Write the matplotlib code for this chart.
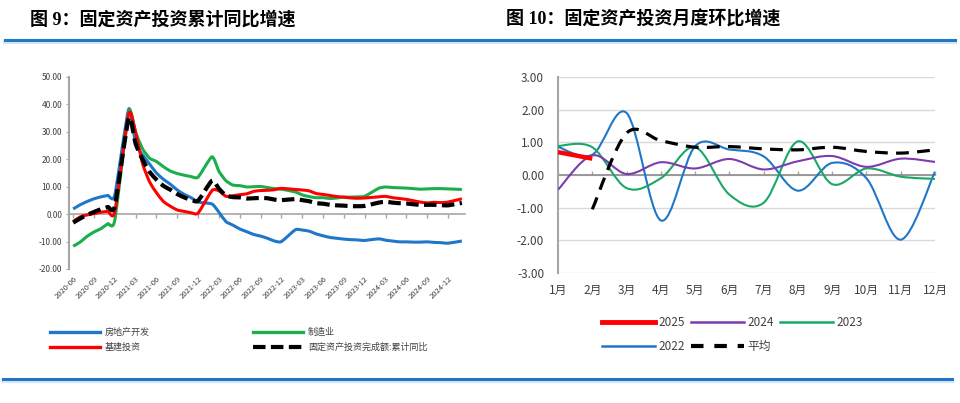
import numpy as np
import pandas as pd
import matplotlib
matplotlib.use('Agg')
import matplotlib.pyplot as plt
from matplotlib.path import Path
from matplotlib.patches import PathPatch
from matplotlib.lines import Line2D

plt.rcParams['font.family'] = ['Noto Sans CJK SC', 'DejaVu Sans']
plt.rcParams['axes.unicode_minus'] = False

# ---------------- 图9 数据：累计同比(%)，1月无数据 ----------------
periods = pd.period_range('2020-06', '2025-02', freq='M')
months = [p for p in periods if p.month != 1]
tick_months = [p for p in periods[::3] if p <= pd.Period('2024-12', freq='M')]

real_estate = [1.9, 3.4, 4.6, 5.6, 6.3, 6.8, 7.0,
               38.3, 25.6, 21.6, 18.3, 15.0, 12.7, 10.9, 8.8, 7.2, 6.0, 4.4,
               3.7, 0.7, -2.7, -4.0, -5.4, -6.4, -7.4, -8.0, -8.8, -9.8, -10.0,
               -5.7, -5.8, -6.2, -7.2, -7.9, -8.5, -8.8, -9.1, -9.3, -9.4, -9.6,
               -9.0, -9.5, -9.8, -10.1, -10.1, -10.2, -10.2, -10.1, -10.3, -10.4, -10.6,
               -9.8]
manufacturing = [-11.7, -10.2, -8.1, -6.5, -5.3, -3.5, -2.2,
                 37.3, 29.8, 23.8, 20.4, 19.2, 17.3, 15.7, 14.8, 14.2, 13.7, 13.5,
                 20.9, 15.6, 12.2, 10.6, 10.4, 9.9, 10.0, 10.1, 9.7, 9.3, 9.1,
                 8.1, 7.0, 6.4, 6.0, 6.0, 5.7, 5.9, 6.2, 6.2, 6.3, 6.5,
                 9.4, 9.9, 9.7, 9.6, 9.5, 9.3, 9.1, 9.2, 9.3, 9.3, 9.2,
                 9.0]
infra = [-2.7, -1.0, -0.3, 0.2, 0.7, 1.0, 0.9,
         36.6, 29.7, 18.4, 11.8, 7.8, 4.6, 2.9, 1.5, 1.0, 0.5, 0.4,
         8.6, 8.5, 6.5, 6.7, 7.1, 7.4, 8.3, 8.6, 8.7, 8.9, 9.4,
         9.0, 8.8, 8.5, 7.5, 7.2, 6.8, 6.4, 6.2, 5.9, 5.8, 5.9,
         6.3, 6.5, 6.0, 5.7, 5.4, 4.9, 4.4, 4.1, 4.3, 4.2, 4.4,
         5.6]
total_fai = [-3.1, -1.6, -0.3, 0.8, 1.8, 2.6, 2.9,
             35.0, 25.6, 19.9, 15.4, 12.6, 10.3, 8.9, 7.3, 6.1, 5.2, 4.9,
             12.2, 9.3, 6.8, 6.2, 6.1, 5.7, 5.8, 5.9, 5.8, 5.3, 5.1,
             5.5, 5.1, 4.7, 4.0, 3.8, 3.4, 3.2, 3.1, 2.9, 2.9, 3.0,
             4.2, 4.5, 4.2, 4.0, 3.9, 3.6, 3.4, 3.4, 3.4, 3.3, 3.2,
             4.1]

# ---------------- 图10 数据：月度环比(%) ----------------
month_labels = ['1月', '2月', '3月', '4月', '5月', '6月',
                '7月', '8月', '9月', '10月', '11月', '12月']
mom_2025 = [0.70, 0.50]
mom_2024 = [-0.45, 0.60, 0.03, 0.39, 0.20, 0.49, 0.17, 0.42, 0.58, 0.25, 0.50, 0.40]
mom_2023 = [0.89, 0.85, -0.40, -0.10, 0.85, -0.60, -0.85, 1.03, -0.28, 0.20, -0.05, -0.12]
mom_2022 = [0.86, 0.62, 1.90, -1.39, 0.88, 0.78, 0.57, -0.48, 0.37, -0.10, -1.98, 0.10]
mom_avg = [-1.05, 1.28, 1.05, 0.85, 0.87, 0.80, 0.77, 0.85, 0.72, 0.67, 0.77]  # 2月起


def smooth_path(x, y, k=1 / 6):
    # Excel 风格平滑线（Catmull-Rom 贝塞尔）
    x = np.asarray(x, float)
    y = np.asarray(y, float)
    n = len(x)
    verts = [(x[0], y[0])]
    codes = [Path.MOVETO]
    for i in range(n - 1):
        xa, ya = (x[i - 1], y[i - 1]) if i > 0 else (x[i], y[i])
        xb, yb = (x[i + 2], y[i + 2]) if i + 2 < n else (x[i + 1], y[i + 1])
        c1 = (x[i] + (x[i + 1] - xa) * k, y[i] + (y[i + 1] - ya) * k)
        c2 = (x[i + 1] - (xb - x[i]) * k, y[i + 1] - (yb - y[i]) * k)
        verts += [c1, c2, (x[i + 1], y[i + 1])]
        codes += [Path.CURVE4] * 3
    return Path(verts, codes)


def draw(ax, x, y, k=1 / 6, **kw):
    ax.add_patch(PathPatch(smooth_path(x, y, k), fill=False, capstyle='butt',
                           joinstyle='round', **kw))


fig = plt.figure(figsize=(9.6, 4.03), dpi=100)

# 标题和装饰线
title_font = ['Liberation Serif', 'Noto Sans CJK SC']
fig.text(30 / 960, 1 - 20 / 403, '图 9：固定资产投资累计同比增速', fontsize=13,
         fontweight='bold', va='center', family=title_font)
fig.text(506 / 960, 1 - 20 / 403, '图 10：固定资产投资月度环比增速', fontsize=13,
         fontweight='bold', va='center', family=title_font)
for yy, lw, col in [(41.5, 3, '#d6e6f5'), (40, 2.2, '#1f77c8')]:
    fig.add_artist(Line2D([5 / 960, 955 / 960], [1 - yy / 403] * 2, lw=lw, color=col))
for yy, lw, col in [(380.5, 3, '#d6e6f5'), (379, 2.2, '#1f77c8')]:
    fig.add_artist(Line2D([3 / 960, 952 / 960], [1 - yy / 403] * 2, lw=lw, color=col))

gray = '#a6a6a6'
label_color = '#404040'

# ---------------- 左图 ----------------
ax1 = fig.add_axes([69 / 960, 1 - 269 / 403, 396 / 960, 192 / 403])
xi = [(p - periods[0]).n for p in months]
ti = [(p - periods[0]).n for p in tick_months]

draw(ax1, xi, real_estate, k=0.1, edgecolor='#1f77c8', lw=2.2)
draw(ax1, xi, manufacturing, k=0.1, edgecolor='#1aaf4b', lw=2.2)
draw(ax1, xi, infra, k=0.1, edgecolor='#ff0000', lw=2.2)
draw(ax1, xi, total_fai, k=0.1, edgecolor='black', lw=3, linestyle=(0, (3, 1.3)))

ax1.set_xlim(-0.6, xi[-1] + 0.45)
ax1.set_ylim(-20, 50)
ax1.set_yticks(range(-20, 51, 10))
ax1.set_yticklabels([f'{v:.2f}' for v in range(-20, 51, 10)], fontsize=6, color=label_color)
ax1.set_xticks(ti)
ax1.set_xticklabels([str(p) for p in tick_months], rotation=45, ha='right',
                    rotation_mode='anchor', fontsize=5.5, color=label_color)
ax1.tick_params(axis='x', length=0, pad=4)
ax1.tick_params(axis='y', length=2, color=gray, pad=3)
for s in ['top', 'right', 'bottom']:
    ax1.spines[s].set_visible(False)
ax1.spines['left'].set_color(gray)
ax1.spines['left'].set_linewidth(1.5)
sec1 = ax1.secondary_xaxis(20 / 70)
sec1.set_xticks(ti)
sec1.set_xticklabels([])
sec1.tick_params(length=3, color=gray, width=1)
for s in sec1.spines.values():
    s.set_color(gray)
    s.set_linewidth(1.2)

h1 = [Line2D([], [], color='#1f77c8', lw=2.4), Line2D([], [], color='#ff0000', lw=2.4),
      Line2D([], [], color='#1aaf4b', lw=2.4),
      Line2D([], [], color='black', lw=3, linestyle=(0, (3, 1.3)))]
l1 = ['房地产开发', '基建投资', '制造业', '固定资产投资完成额:累计同比']
fig.legend(h1, l1, loc='center left', bbox_to_anchor=(50 / 960, 1 - 340 / 403),
           ncol=2, frameon=False, fontsize=6.5, handlelength=5.5, handletextpad=0.55,
           columnspacing=11.5, labelspacing=0.6, borderpad=0, borderaxespad=0,
           labelcolor=label_color)

# ---------------- 右图 ----------------
ax2 = fig.add_axes([558 / 960, 1 - 273 / 403, 377 / 960, 196 / 403])
mx = np.arange(1, 13)
ax2.set_xlim(1, 12)
ax2.set_ylim(-3, 3)
for v in range(-3, 4):
    ax2.axhline(v, color='#d9d9d9', lw=1, zorder=0)

c22, c23, c24, c25 = '#1f77c8', '#19a866', '#7d3bb0', '#ff0000'
draw(ax2, mx, mom_2022, edgecolor=c22, lw=1.5, zorder=3)
draw(ax2, mx, mom_2023, edgecolor=c23, lw=1.5, zorder=3)
draw(ax2, mx, mom_2024, edgecolor=c24, lw=1.5, zorder=3)
draw(ax2, mx[1:], mom_avg, edgecolor='black', lw=2.3, linestyle=(0, (4, 2.6)), zorder=4)
draw(ax2, mx[:len(mom_2025)], mom_2025, edgecolor=c25, lw=3.2, zorder=5)

ax2.set_yticks(range(-3, 4))
ax2.set_yticklabels([f'{v:.2f}' for v in range(-3, 4)], fontsize=8.5, color=label_color)
ax2.set_xticks(mx)
ax2.set_xticklabels(month_labels, fontsize=8.5, color=label_color)
ax2.tick_params(axis='x', length=0, pad=8)
ax2.tick_params(axis='y', length=0, pad=10)
for s in ['top', 'right', 'bottom']:
    ax2.spines[s].set_visible(False)
ax2.spines['left'].set_color(gray)
ax2.spines['left'].set_linewidth(1.5)
sec2 = ax2.secondary_xaxis(0.5)
sec2.set_xticks(mx)
sec2.set_xticklabels([])
sec2.tick_params(length=3, color=gray, width=1)
for s in sec2.spines.values():
    s.set_color('#8c8c8c')
    s.set_linewidth(1.2)

h2 = [Line2D([], [], color=c25, lw=3.5), Line2D([], [], color=c22, lw=1.8),
      Line2D([], [], color=c24, lw=1.8),
      Line2D([], [], color='black', lw=3, linestyle=(0, (3, 2.6))),
      Line2D([], [], color=c23, lw=1.8)]
l2 = ['2025', '2022', '2024', '平均', '2023']
fig.legend(h2, l2, loc='center left', bbox_to_anchor=(602 / 960, 1 - 334.5 / 403),
           ncol=3, frameon=False, fontsize=8.5, handlelength=4.5, handletextpad=0.3,
           columnspacing=0.5, labelspacing=0.9, borderpad=0, borderaxespad=0,
           labelcolor=label_color)

fig.savefig('out.png', dpi=100)
